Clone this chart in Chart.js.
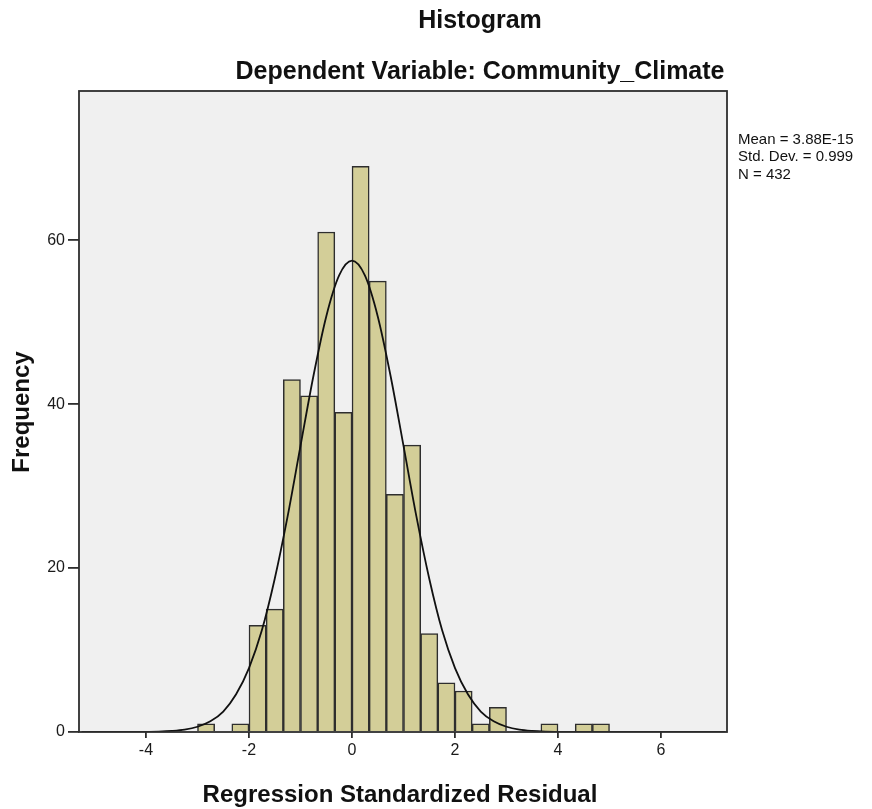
<!DOCTYPE html>
<html>
<head>
<meta charset="utf-8">
<script src="https://cdn.jsdelivr.net/npm/chart.js@4.4.1/dist/chart.umd.min.js"></script>
<style>
    html, body { margin: 0; padding: 0; background: #ffffff; }
    #histChart { display: block; }
</style>
</head>
<body>
<canvas id="histChart" width="872" height="809"></canvas>
<script>
// bin centres (bin width 1/3) and counts
const binCenters = [-2.833, -2.5, -2.167, -1.833, -1.5, -1.167, -0.833, -0.5, -0.167,
                    0.167, 0.5, 0.833, 1.167, 1.5, 1.833, 2.167, 2.5, 2.833,
                    3.167, 3.5, 3.833, 4.167, 4.5, 4.833];
const binCounts = [1, 0, 1, 13, 15, 43, 41, 61, 39,
                   69, 55, 29, 35, 12, 6, 5, 1, 3,
                   0, 0, 1, 0, 1, 1];

// normal curve
const curveX = [-5.25, -5, -4.75, -4.5, -4.25, -4, -3.75, -3.5, -3.25, -3, -2.75, -2.5, -2.25,
                -2, -1.75, -1.5, -1.25, -1, -0.75, -0.5, -0.25, 0, 0.25, 0.5, 0.75, 1,
                1.25, 1.5, 1.75, 2, 2.25, 2.5, 2.75, 3, 3.25, 3.5, 3.75, 4, 4.25, 4.5,
                5, 5.5, 6, 6.5, 7, 7.25];
const curveY = [0, 0, 0, 0, 0, 0.02, 0.05, 0.13, 0.29, 0.64, 1.3, 2.5, 4.6,
                7.8, 12.4, 18.7, 26.3, 34.9, 43.4, 50.7, 55.7, 57.5, 55.7, 50.7, 43.4, 34.9,
                26.3, 18.7, 12.4, 7.8, 4.6, 2.5, 1.3, 0.64, 0.29, 0.13, 0.05, 0.02, 0, 0,
                0, 0, 0, 0, 0, 0];

const xTickValues = [-4, -2, 0, 2, 4, 6];
const yTickValues = [0, 20, 40, 60];

const titleText = "Histogram";
const subtitleText = "Dependent Variable: Community_Climate";
const xTitleText = "Regression Standardized Residual";
const yTitleText = "Frequency";
const statsLines = ["Mean = 3.88E-15", "Std. Dev. = 0.999", "N = 432"];

const FONT = "'Liberation Sans', Arial, sans-serif";

// grey panel + dark frame + all the loose text
const spssFrame = {
    id: 'spssFrame',
    beforeDraw(chart) {
        const { ctx, chartArea: a } = chart;
        ctx.save();
        ctx.fillStyle = '#f0f0f0';
        ctx.fillRect(a.left, a.top, a.right - a.left, a.bottom - a.top);
        ctx.restore();
    },
    afterDraw(chart) {
        const { ctx, chartArea: a } = chart;
        ctx.save();
        ctx.strokeStyle = '#2e2e2e';
        ctx.lineWidth = 1.8;
        ctx.strokeRect(a.left, a.top, a.right - a.left, a.bottom - a.top);

        ctx.fillStyle = '#111111';
        ctx.textAlign = 'center';
        ctx.textBaseline = 'middle';
        ctx.font = "bold 25px " + FONT;
        ctx.fillText(titleText, 480, 21);
        ctx.fillText(subtitleText, 480, 72);

        ctx.font = "bold 24px " + FONT;
        ctx.fillText(xTitleText, 400, 795);

        ctx.save();
        ctx.translate(22, 412);
        ctx.rotate(-Math.PI / 2);
        ctx.fillText(yTitleText, 0, 0);
        ctx.restore();

        ctx.textAlign = 'left';
        ctx.font = "15px " + FONT;
        statsLines.forEach((line, i) => {
            ctx.fillText(line, 738, 140 + i * 17.3);
        });
        ctx.restore();
    }
};

const ctx = document.getElementById('histChart').getContext('2d');

new Chart(ctx, {
    type: 'bar',
    data: {
        datasets: [
            {
                type: 'line',
                data: curveX.map((x, i) => ({ x: x, y: curveY[i] })),
                borderColor: '#111111',
                borderWidth: 1.8,
                pointRadius: 0,
                fill: false,
                cubicInterpolationMode: 'monotone',
                order: 0
            },
            {
                type: 'bar',
                data: binCenters.map((x, i) => ({ x: x, y: binCounts[i] })),
                backgroundColor: '#d3ce98',
                borderColor: '#2e2e2e',
                borderWidth: 1.5,
                borderSkipped: 'bottom',
                barPercentage: 1.0,
                categoryPercentage: 1.0,
                order: 1
            }
        ]
    },
    options: {
        responsive: false,
        animation: false,
        layout: { padding: { top: 91, right: 145, left: 0, bottom: 0 } },
        plugins: {
            legend: { display: false },
            tooltip: { enabled: false },
            title: { display: false }
        },
        scales: {
            x: {
                type: 'linear',
                offset: false,
                min: -5.3,
                max: 7.28,
                afterBuildTicks: s => { s.ticks = xTickValues.map(v => ({ value: v })); },
                afterFit: s => { s.height = 77; },
                grid: {
                    offset: false,
                    drawOnChartArea: false,
                    drawTicks: true,
                    tickLength: 6,
                    color: '#2e2e2e',
                    lineWidth: 1.8
                },
                border: { display: false },
                ticks: {
                    color: '#1a1a1a',
                    font: { family: FONT, size: 16 },
                    padding: 3,
                    maxRotation: 0
                }
            },
            y: {
                min: 0,
                max: 78.2,
                afterBuildTicks: s => { s.ticks = yTickValues.map(v => ({ value: v })); },
                afterFit: s => { s.width = 79; },
                grid: {
                    drawOnChartArea: false,
                    drawTicks: true,
                    tickLength: 11,
                    color: '#2e2e2e',
                    lineWidth: 1.8
                },
                border: { display: false },
                ticks: {
                    color: '#1a1a1a',
                    font: { family: FONT, size: 16 },
                    padding: 3
                }
            }
        }
    },
    plugins: [spssFrame]
});
</script>
</body>
</html>
